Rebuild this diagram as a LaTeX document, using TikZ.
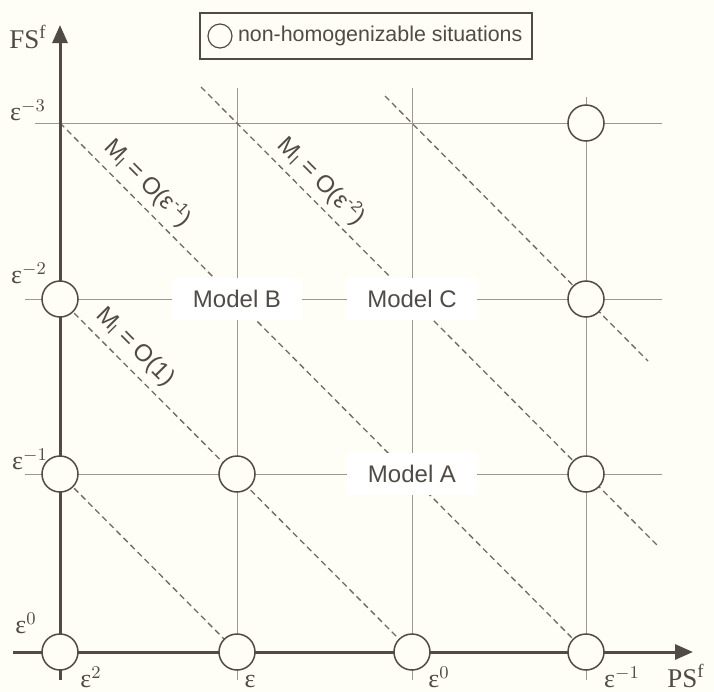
\documentclass[tikz,border=0pt]{standalone}
\usepackage{fontspec}
\setmainfont{Liberation Serif}
\setsansfont{Liberation Sans}
\usetikzlibrary{arrows.meta,positioning}
\definecolor{paper}{RGB}{254,253,246}
\definecolor{ink}{RGB}{80,75,70}
\definecolor{gridgray}{RGB}{155,152,145}
\definecolor{dashgray}{RGB}{110,106,100}

\begin{document}
\begin{tikzpicture}[x=0.5pt, y=-0.5pt, >={Triangle[length=9pt,width=7.5pt]}, every node/.style={text=ink}]
\tikzstyle{situation}=[circle, draw=ink, line width=0.75pt, fill=paper, minimum size=18pt, inner sep=0pt]
\tikzstyle{gridline}=[draw=gridgray, line width=0.45pt]
\tikzstyle{orderline}=[draw=dashgray, line width=0.65pt, dash pattern=on 3pt off 2pt]
\tikzstyle{axis}=[draw=ink, line width=1.5pt]
\tikzstyle{model}=[fill=white, font=\sffamily\fontsize{12}{14}\selectfont, minimum width=65pt, minimum height=21pt, inner sep=0pt]
\tikzstyle{order}=[font=\sffamily\fontsize{12}{14}\selectfont, rotate=-45, inner sep=0pt]
\tikzstyle{tick}=[font=\fontsize{13}{15}\selectfont, inner sep=0pt]
\fill[paper] (0,0) rectangle (714,692);
\useasboundingbox (0,0) rectangle (714,692);
% grid points
\coordinate (g00) at (60,652);  \coordinate (g10) at (237,652);
\coordinate (g20) at (412,652); \coordinate (g30) at (586,652);
\coordinate (g01) at (60,474);  \coordinate (g11) at (237,474);
\coordinate (g21) at (412,474); \coordinate (g31) at (586,474);
\coordinate (g02) at (60,299);  \coordinate (g12) at (237,299);
\coordinate (g22) at (412,299); \coordinate (g32) at (586,299);
\coordinate (g03) at (60,123);  \coordinate (g33) at (586,123);
% ends of the grid lines
\coordinate (row1w) at (25,474); \coordinate (row1e) at (662,474);
\coordinate (row2w) at (25,299); \coordinate (row2e) at (662,299);
\coordinate (row3w) at (35,123); \coordinate (row3e) at (662,123);
\coordinate (col1n) at (237,88); \coordinate (col1s) at (237,680);
\coordinate (col2n) at (412,88); \coordinate (col2s) at (412,680);
\coordinate (col3n) at (586,97); \coordinate (col3s) at (586,680);
\draw[gridline] (row1w) -- (row1e);
\draw[gridline] (row2w) -- (row2e);
\draw[gridline] (row3w) -- (row3e);
\draw[gridline] (col1n) -- (col1s);
\draw[gridline] (col2n) -- (col2s);
\draw[gridline] (col3n) -- (col3s);
% lines of equal order
\coordinate (d4n) at (201,87);  \coordinate (d4s) at (657,545);
\coordinate (d5n) at (385,96);  \coordinate (d5s) at (648,361);
\draw[orderline] (g01) -- (g10);
\draw[orderline] (g02) -- (g20);
\draw[orderline] (g03) -- (g30);
\draw[orderline] (d4n) -- (d4s);
\draw[orderline] (d5n) -- (d5s);
% axes
\coordinate (yfoot) at (60,680); \coordinate (ytip) at (60,25);
\coordinate (xfoot) at (13,652); \coordinate (xtip) at (693,652);
\draw[axis,->] (yfoot) -- (ytip);
\draw[axis,->] (xfoot) -- (xtip);
\node[font=\fontsize{13.5}{15}\selectfont] (fsname) at (28,37) {FS\textsuperscript{f}};
\node[font=\fontsize{13.5}{15}\selectfont] (psname) at (686,676) {PS\textsuperscript{f}};
% non-homogenizable situations
\node[situation] (s00) at (g00) {};
\node[situation] (s10) at (g10) {};
\node[situation] (s20) at (g20) {};
\node[situation] (s30) at (g30) {};
\node[situation] (s01) at (g01) {};
\node[situation] (s11) at (g11) {};
\node[situation] (s31) at (g31) {};
\node[situation] (s02) at (g02) {};
\node[situation] (s32) at (g32) {};
\node[situation] (s33) at (g33) {};
% models
\node[model] (modelB) at (g12) {Model B};
\node[model] (modelC) at (g22) {Model C};
\node[model] (modelA) at (g21) {Model A};
% orders
\node[order] (ordm1) at (148,183) {M\textsubscript{l} = O(ε\textsuperscript{-1})};
\node[order] (ordm2) at (322,181) {M\textsubscript{l} = O(ε\textsuperscript{-2})};
\node[order] (ord0) at (135,347) {M\textsubscript{l} = O(1)};
% tick labels
\node[tick] (fm3) at (28,110) {ε$^{-3}$};
\node[tick] (fm2) at (29,273) {ε$^{-2}$};
\node[tick] (fm1) at (30,459) {ε$^{-1}$};
\node[tick] (f0) at (26,623) {ε$^{0}$};
\node[tick] (p2) at (91,677) {ε$^{2}$};
\node[tick] (p1) at (250,681) {ε};
\node[tick] (p0) at (439,677) {ε$^{0}$};
\node[tick] (pm1) at (622,677) {ε$^{-1}$};
% legend
\node[draw=ink, line width=0.6pt, minimum width=166pt, minimum height=23pt, inner sep=0pt] (legend) at (366,36) {};
\node[situation, minimum size=12pt, line width=0.6pt] (legendmark) at (220,36) {};
\node[right=2.5pt of legendmark, font=\sffamily\fontsize{10.7}{12}\selectfont, inner sep=0pt] (legendtext) {non-homogenizable situations};
\end{tikzpicture}
\end{document}
